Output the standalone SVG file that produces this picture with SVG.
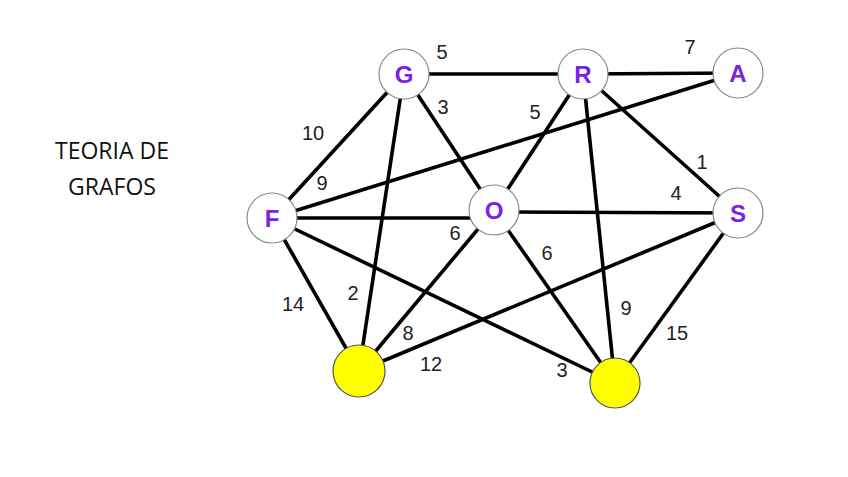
<svg xmlns="http://www.w3.org/2000/svg" width="848" height="477" viewBox="0 0 848 477">
<style>
.e{stroke:#000;stroke-width:3.6;fill:none}
.n{fill:#fff;stroke:#888;stroke-width:1.2}
.y{fill:#ffff00;stroke:#555;stroke-width:1.2}
.l{font-family:"Liberation Sans",Arial,sans-serif;font-weight:bold;font-size:24px;fill:#7a22e4;text-anchor:middle}
.w{font-family:"Liberation Sans",Arial,sans-serif;font-size:20px;fill:#222;text-anchor:middle}
.t{font-family:"Open Sans","Liberation Sans",sans-serif;font-size:23px;fill:#111;text-anchor:middle}
</style>
<rect width="848" height="477" fill="#fff"/>
<g id="title">
<text class="t" x="112" y="159">TEORIA DE</text>
<text class="t" x="112" y="195">GRAFOS</text>
</g>
<g id="connectors">
<line class="e" x1="404" y1="74" x2="583" y2="74"/>
<line class="e" x1="583" y1="74" x2="738" y2="73"/>
<line class="e" x1="404" y1="74" x2="272" y2="218"/>
<line class="e" x1="404" y1="74" x2="494" y2="210"/>
<line class="e" x1="404" y1="74" x2="359" y2="371"/>
<line class="e" x1="272" y1="218" x2="738" y2="73"/>
<line class="e" x1="272" y1="218" x2="474" y2="218"/>
<line class="e" x1="272" y1="218" x2="359" y2="371"/>
<line class="e" x1="272" y1="218" x2="615" y2="383"/>
<line class="e" x1="494" y1="210" x2="583" y2="74"/>
<line class="e" x1="494" y1="212" x2="738" y2="213"/>
<line class="e" x1="494" y1="210" x2="359" y2="371"/>
<line class="e" x1="494" y1="210" x2="615" y2="383"/>
<line class="e" x1="583" y1="74" x2="738" y2="213"/>
<line class="e" x1="583" y1="74" x2="615" y2="383"/>
<line class="e" x1="738" y1="213" x2="359" y2="371"/>
<line class="e" x1="738" y1="213" x2="615" y2="383"/>
</g>
<g id="weights">
<text class="w" x="442" y="59">5</text>
<text class="w" x="690" y="54">7</text>
<text class="w" x="313" y="140">10</text>
<text class="w" x="443" y="114">3</text>
<text class="w" x="535" y="119">5</text>
<text class="w" x="322" y="190">9</text>
<text class="w" x="702" y="169">1</text>
<text class="w" x="676" y="200">4</text>
<text class="w" x="455" y="240">6</text>
<text class="w" x="293" y="311">14</text>
<text class="w" x="353" y="300">2</text>
<text class="w" x="408" y="340">8</text>
<text class="w" x="431" y="371">12</text>
<text class="w" x="547" y="260">6</text>
<text class="w" x="626" y="315">9</text>
<text class="w" x="677" y="340">15</text>
<text class="w" x="562" y="377">3</text>
</g>
<g id="node-G"><circle class="n" cx="404" cy="74" r="25"/><text class="l" x="404" y="83">G</text></g>
<g id="node-R"><circle class="n" cx="583" cy="74" r="25"/><text class="l" x="583" y="83">R</text></g>
<g id="node-A"><circle class="n" cx="738" cy="73" r="25"/><text class="l" x="738" y="82">A</text></g>
<g id="node-F"><circle class="n" cx="272" cy="218" r="25"/><text class="l" x="272" y="227">F</text></g>
<g id="node-O"><circle class="n" cx="494" cy="210" r="25"/><text class="l" x="494" y="219">O</text></g>
<g id="node-S"><circle class="n" cx="738" cy="213" r="25"/><text class="l" x="738" y="222">S</text></g>
<g id="node-Y1"><circle class="y" cx="359" cy="371" r="26"/></g>
<g id="node-Y2"><circle class="y" cx="615" cy="383" r="25"/></g>
</svg>
